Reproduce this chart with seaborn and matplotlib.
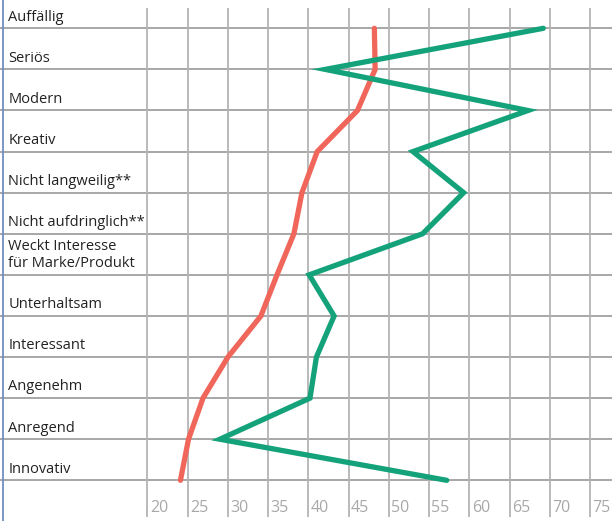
import numpy as np
import pandas as pd
import matplotlib.pyplot as plt
import seaborn as sns

#%% Daten
kategorien = ["Auffällig", "Seriös", "Modern", "Kreativ", "Nicht langweilig**",
              "Nicht aufdringlich**", "Weckt Interesse\nfür Marke/Produkt",
              "Unterhaltsam", "Interessant", "Angenehm", "Anregend", "Innovativ"]
werte_rot = [48.2, 48.3, 46.1, 41.1, 39.2, 38.2, 36.1, 34.1, 30.0, 26.9, 25.1, 24.1]
werte_gruen = [69.2, 42.1, 67.3, 53.0, 59.3, 54.2, 40.1, 43.2, 41.0, 40.2, 29.0, 57.2]
x_ticks = [20, 25, 30, 35, 40, 45, 50, 55, 60, 65, 70, 75]

pos = np.arange(len(kategorien))
df = pd.DataFrame({"pos": np.concatenate([pos, pos]),
                   "wert": werte_rot + werte_gruen,
                   "serie": ["rot"] * len(pos) + ["gruen"] * len(pos)})

#%% Grafik
sns.set_style("white")
plt.rcParams["font.family"] = ["Open Sans", "DejaVu Sans"]

fig = plt.figure(figsize=(6.12, 5.21), dpi=100)
ax = fig.add_axes([0, 0, 1, 1])
ax.set_xlim(1.67, 77.74)
ax.set_ylim(11.99, -0.689)
ax.axis("off")

# Gitter
for i in pos:
    ax.axhline(i, color="#a0a0a0", lw=1.3, zorder=1)
ax.vlines(x_ticks, -0.494, 11.89, color="#b4b4b4", lw=1.3, zorder=1)
ax.axvline(2.05, color="#6f8fbf", lw=1.3, zorder=1)

sns.lineplot(data=df, x="wert", y="pos", hue="serie", sort=False,
             estimator=None, orient="y",
             palette={"rot": "#f1665a", "gruen": "#13a27a"},
             lw=3.8, solid_capstyle="round", solid_joinstyle="miter",
             legend=False, ax=ax, zorder=3)

# Beschriftungen
for i, k in zip(pos, kategorien):
    ax.text(2.7, i - 0.09, k, ha="left", va="bottom", fontsize=10.5,
            color="#222222", linespacing=1.2, zorder=4)

for t in x_ticks:
    ax.text(t + 0.3, 11.86, str(t), ha="left", va="bottom", fontsize=11.5,
            color="#a8a8a8", zorder=4)

fig.savefig("out.png", dpi=100)
